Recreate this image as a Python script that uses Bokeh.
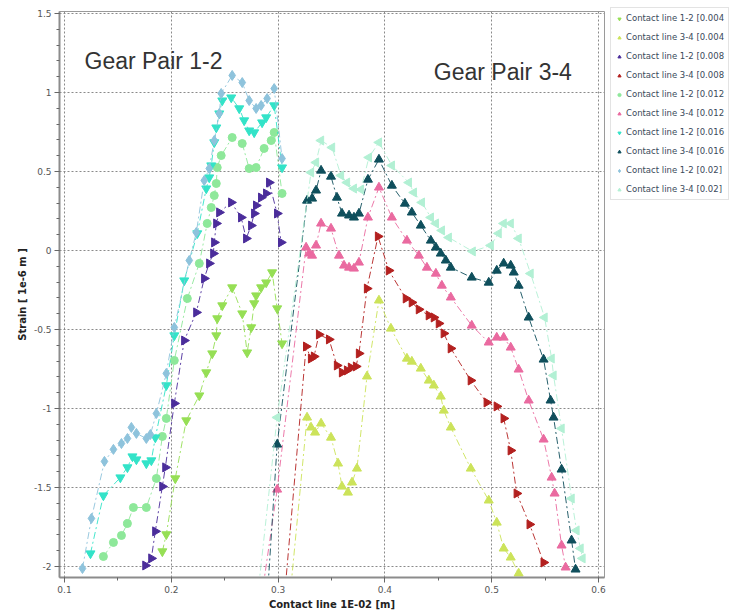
import math
from bokeh.plotting import figure
from bokeh.models import Legend, LegendItem, Label, SingleIntervalTicker, Range1d
from bokeh.embed import file_html
from bokeh.resources import INLINE

# ---------------- data ----------------
series_labels = [
    "Contact line 1-2 [0.004", "Contact line 3-4 [0.004",
    "Contact line 1-2 [0.008", "Contact line 3-4 [0.008",
    "Contact line 1-2 [0.012", "Contact line 3-4 [0.012",
    "Contact line 1-2 [0.016", "Contact line 3-4 [0.016",
    "Contact line 1-2 [0.02]", "Contact line 3-4 [0.02]",
]

# Gear pair 1-2, 0.004
s1_x = [0.1916, 0.1953, 0.2037, 0.2140, 0.2262, 0.2327, 0.2383, 0.2421, 0.2430, 0.2477,
        0.2570, 0.2664, 0.2710, 0.2748, 0.2776, 0.2794, 0.2841, 0.2888, 0.2944, 0.2991, 0.3037]
s1_y = [-1.905, -1.797, -1.443, -1.076, -0.918, -0.772, -0.652, -0.538, -0.430, -0.348,
        -0.234, -0.399, -0.646, -0.487, -0.335, -0.285, -0.234, -0.203, -0.139, -0.367, -0.589]

# Gear pair 3-4, 0.004
s2_x = [0.3121, 0.3271, 0.3308, 0.3346, 0.3402, 0.3495, 0.3561, 0.3598, 0.3654, 0.3692, 0.3738,
        0.3832, 0.3944, 0.4056, 0.4206, 0.4252, 0.4336, 0.4411, 0.4458, 0.4523, 0.4551, 0.4617,
        0.4804, 0.4972, 0.5047, 0.5112, 0.5178, 0.5252]
s2_y = [-2.12, -1.057, -1.120, -1.152, -1.095, -1.184, -1.348, -1.494, -1.532, -1.468, -1.380,
        -0.797, -0.316, -0.494, -0.684, -0.703, -0.747, -0.823, -0.854, -0.924, -1.013, -1.120,
        -1.380, -1.582, -1.722, -1.886, -1.943, -2.044]

# Gear pair 1-2, 0.008
s3_x = [0.1757, 0.1813, 0.1850, 0.1916, 0.1944, 0.2028, 0.2121, 0.2234, 0.2308, 0.2355, 0.2393,
        0.2402, 0.2421, 0.2449, 0.2561, 0.2654, 0.2701, 0.2748, 0.2776, 0.2794, 0.2841, 0.2888,
        0.2916, 0.2991, 0.3028]
s3_y = [-1.994, -1.949, -1.778, -1.494, -1.373, -0.968, -0.570, -0.392, -0.177, -0.082, -0.019,
        0.051, 0.171, 0.241, 0.304, 0.209, 0.076, 0.158, 0.234, 0.285, 0.335, 0.361,
        0.430, 0.234, 0.051]

# Gear pair 3-4, 0.008
s4_x = [0.3065, 0.3262, 0.3308, 0.3336, 0.3383, 0.3477, 0.3551, 0.3598, 0.3645, 0.3682, 0.3729,
        0.3757, 0.3832, 0.3935, 0.4037, 0.4196, 0.4252, 0.4318, 0.4411, 0.4458, 0.4505, 0.4551,
        0.4617, 0.4804, 0.4953, 0.5047, 0.5112, 0.5178, 0.5234, 0.5355, 0.5486]
s4_y = [-2.15, -0.608, -0.684, -0.671, -0.532, -0.563, -0.728, -0.772, -0.759, -0.741, -0.734,
        -0.652, -0.241, 0.089, -0.127, -0.304, -0.329, -0.373, -0.411, -0.424, -0.462, -0.525,
        -0.620, -0.823, -0.962, -0.987, -1.063, -1.266, -1.538, -1.734, -1.975]

# Gear pair 1-2, 0.012
s5_x = [0.1364, 0.1458, 0.1533, 0.1589, 0.1645, 0.1766, 0.1860, 0.1916, 0.1953, 0.2028, 0.2150,
        0.2262, 0.2336, 0.2374, 0.2402, 0.2421, 0.2430, 0.2467, 0.2570, 0.2664, 0.2729, 0.2794,
        0.2869, 0.2935, 0.2963, 0.3037]
s5_y = [-1.937, -1.848, -1.804, -1.728, -1.627, -1.627, -1.443, -1.177, -1.063, -0.696, -0.304,
        -0.082, 0.171, 0.272, 0.348, 0.424, 0.525, 0.601, 0.715, 0.677, 0.519, 0.525,
        0.646, 0.696, 0.747, 0.361]

# Gear pair 3-4, 0.012
s6_x = [0.2841, 0.2991, 0.3262, 0.3290, 0.3318, 0.3355, 0.3402, 0.3495, 0.3570, 0.3617, 0.3664,
        0.3710, 0.3757, 0.3841, 0.3944, 0.4065, 0.4206, 0.4318, 0.4393, 0.4477, 0.4533, 0.4617,
        0.4813, 0.4972, 0.5047, 0.5112, 0.5178, 0.5252, 0.5346, 0.5486, 0.5561, 0.5589, 0.5654, 0.5692]
s6_y = [-2.215, -1.513, 0.019, -0.019, -0.032, 0.032, 0.171, 0.139, -0.032, -0.095, -0.108,
        -0.114, -0.076, 0.209, 0.399, 0.209, 0.063, -0.032, -0.108, -0.146, -0.222, -0.297,
        -0.475, -0.582, -0.551, -0.551, -0.614, -0.753, -0.949, -1.196, -1.437, -1.538, -1.867, -2.006]

# Gear pair 1-2, 0.016
s7_x = [0.1243, 0.1364, 0.1523, 0.1589, 0.1636, 0.1673, 0.1766, 0.1813, 0.1850, 0.1953, 0.2028,
        0.2121, 0.2243, 0.2327, 0.2355, 0.2374, 0.2402, 0.2421, 0.2449, 0.2477, 0.2561, 0.2636,
        0.2682, 0.2729, 0.2776, 0.2850, 0.2888, 0.2963, 0.3037]
s7_y = [-1.918, -1.551, -1.437, -1.373, -1.304, -1.323, -1.348, -1.329, -1.184, -0.854, -0.538,
        -0.190, 0.108, 0.392, 0.462, 0.538, 0.684, 0.778, 0.867, 0.949, 0.968, 0.899,
        0.823, 0.759, 0.747, 0.810, 0.842, 0.918, 0.525]

# Gear pair 3-4, 0.016
s8_x = [0.2897, 0.2991, 0.3271, 0.3318, 0.3355, 0.3402, 0.3495, 0.3551, 0.3598, 0.3664, 0.3710,
        0.3757, 0.3841, 0.3944, 0.4065, 0.4187, 0.4252, 0.4336, 0.4430, 0.4477, 0.4523, 0.4570,
        0.4617, 0.4813, 0.4972, 0.5047, 0.5112, 0.5178, 0.5206, 0.5252, 0.5346, 0.5486, 0.5551,
        0.5579, 0.5654, 0.5748, 0.5785]
s8_y = [-2.215, -1.228, 0.316, 0.329, 0.380, 0.506, 0.468, 0.335, 0.234, 0.222, 0.209,
        0.234, 0.449, 0.576, 0.411, 0.297, 0.241, 0.158, 0.063, 0.019, -0.019, -0.063,
        -0.108, -0.171, -0.203, -0.127, -0.082, -0.095, -0.139, -0.222, -0.424, -0.690, -0.949,
        -1.057, -1.386, -1.835, -2.019]

# Gear pair 1-2, 0.02
s9_x = [0.1168, 0.1252, 0.1374, 0.1458, 0.1533, 0.1589, 0.1626, 0.1673, 0.1766, 0.1804, 0.1860,
        0.1953, 0.2028, 0.2168, 0.2234, 0.2308, 0.2355, 0.2402, 0.2449, 0.2467, 0.2570, 0.2664,
        0.2729, 0.2794, 0.2841, 0.2897, 0.2963, 0.3037]
s9_y = [-2.013, -1.696, -1.335, -1.259, -1.222, -1.190, -1.120, -1.158, -1.190, -1.165, -1.032,
        -0.778, -0.487, -0.063, 0.114, 0.443, 0.519, 0.696, 0.867, 0.994, 1.108, 1.063,
        0.949, 0.899, 0.918, 0.962, 1.025, 0.582]

# Gear pair 3-4, 0.02
s10_x = [0.2804, 0.2991, 0.3308, 0.3355, 0.3402, 0.3505, 0.3589, 0.3645, 0.3710, 0.3776, 0.3850,
         0.3944, 0.4065, 0.4224, 0.4271, 0.4346, 0.4430, 0.4477, 0.4533, 0.4598, 0.4822, 0.4991,
         0.5065, 0.5112, 0.5178, 0.5252, 0.5364, 0.5495, 0.5561, 0.5579, 0.5654, 0.5748, 0.5794,
         0.5832, 0.5850]
s10_y = [-2.215, -1.057, 0.494, 0.557, 0.696, 0.652, 0.475, 0.430, 0.392, 0.386, 0.589,
         0.684, 0.538, 0.430, 0.367, 0.304, 0.209, 0.171, 0.127, 0.082, -0.006, 0.032,
         0.108, 0.171, 0.171, 0.076, -0.146, -0.424, -0.684, -0.791, -1.127, -1.570, -1.772,
         -1.886, -1.949]

y_tick_labels = {1.5: "1.5", 1: "1", 0.5: "0.5", 0: "0", -0.5: "-0.5", -1: "-1", -1.5: "-1.5", -2: "-2"}

# ---------------- styling ----------------
xs = [s1_x, s2_x, s3_x, s4_x, s5_x, s6_x, s7_x, s8_x, s9_x, s10_x]
ys = [s1_y, s2_y, s3_y, s4_y, s5_y, s6_y, s7_y, s8_y, s9_y, s10_y]
colors = ["#96df55", "#cce35a", "#4b2d9b", "#b3201f", "#8ee89a",
          "#ea6aa0", "#33e3c8", "#0f4f5c", "#8ec3dc", "#b2f0d4"]
markers = ["inverted_triangle", "triangle", "triangle", "triangle", "circle",
           "triangle", "inverted_triangle", "triangle", "diamond", "triangle"]
angles = [0, 0, -math.pi / 2, -math.pi / 2, 0, 0, 0, 0, 0, math.pi / 2]
sizes = [9, 9, 9, 9, 8, 9, 9, 9, 10, 9]

p = figure(frame_width=545, frame_height=566,
           x_range=Range1d(0.0953, 0.6056), y_range=Range1d(-2.070, 1.5127),
           output_backend="svg", toolbar_location=None,
           min_border_left=59, min_border_top=11, min_border_right=0, min_border_bottom=0,
           background_fill_color="white", border_fill_color="white")
p.outline_line_color = "#9a9a9a"
p.outline_line_width = 1

items = []
for i in range(10):
    p.line(xs[i], ys[i], line_color=colors[i], line_width=1, line_dash="7 3 2 3", line_alpha=0.9)
    r = p.scatter(xs[i], ys[i], marker=markers[i], angle=angles[i], size=sizes[i],
                  fill_color=colors[i], line_color=colors[i])
    items.append(LegendItem(label=series_labels[i], renderers=[r]))

# axes
p.xaxis.ticker = SingleIntervalTicker(interval=0.1, num_minor_ticks=2)
p.yaxis.ticker = SingleIntervalTicker(interval=0.5, num_minor_ticks=5)
p.yaxis.major_label_overrides = y_tick_labels
for ax in (p.xaxis[0], p.yaxis[0]):
    ax.axis_line_color = "#8c8c8c"
    ax.axis_line_width = 2
    ax.major_tick_line_color = "#666666"
    ax.minor_tick_line_color = "#666666"
    ax.major_tick_in = 0
    ax.major_tick_out = 5
    ax.minor_tick_in = 0
    ax.minor_tick_out = 3
    ax.major_label_text_font = "DejaVu Sans"
    ax.major_label_text_font_size = "9px"
    ax.major_label_text_color = "#555555"
    ax.major_label_standoff = 3
    ax.axis_label_text_font = "DejaVu Sans"
    ax.axis_label_text_font_size = "10px"
    ax.axis_label_text_font_style = "bold"
    ax.axis_label_text_color = "#222222"
    ax.axis_label_standoff = 3
p.xaxis.axis_label = "Contact line 1E-02 [m]"
p.yaxis.axis_label = "Strain [ 1e-6 m ]"

for g in (p.xgrid[0], p.ygrid[0]):
    g.grid_line_color = "#8a8a8a"
    g.grid_line_dash = "2 2"
    g.grid_line_width = 1

# annotations
p.add_layout(Label(x=0.1187, y=1.12, text="Gear Pair 1-2", text_font="Liberation Sans",
                   text_font_size="23px", text_color="#333333"))
p.add_layout(Label(x=0.4458, y=1.045, text="Gear Pair 3-4", text_font="Liberation Sans",
                   text_font_size="23px", text_color="#333333"))

legend = Legend(items=items, location=(6, 377), margin=0, padding=4,
                label_text_font="DejaVu Sans", label_text_font_size="8.5px",
                label_text_color="#3a4a5a", label_height=12, glyph_height=9, glyph_width=8,
                label_standoff=3, spacing=7, border_line_color="#c8c8c8",
                background_fill_color="white")
p.add_layout(legend, "right")

open("out.html", "w").write(file_html(p, INLINE))
